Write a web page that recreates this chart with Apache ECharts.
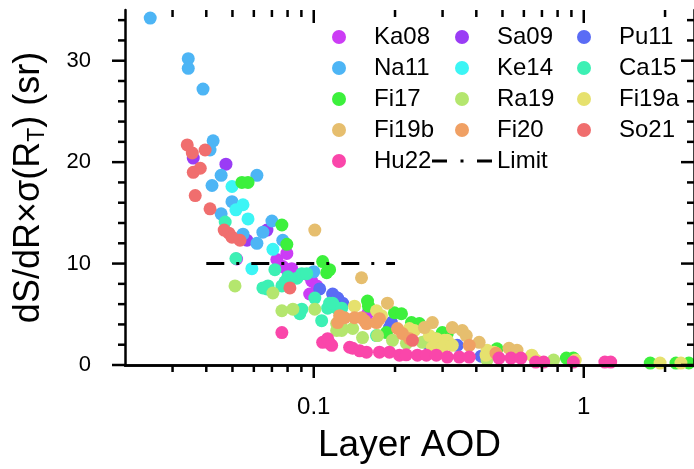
<!DOCTYPE html>
<html>
<head>
<meta charset="utf-8">
<script src="https://cdn.jsdelivr.net/npm/echarts@6/dist/echarts.min.js"></script>
<style>html,body{margin:0;padding:0;background:#fff}#c{width:694px;height:469px}</style>
</head>
<body>
<div id="c"></div>
<script>
const seriesNames = ['Ka08','Sa09','Pu11','Na11','Ke14','Ca15','Fi17','Ra19','Fi19a','Fi19b','Fi20','So21','Hu22'];
const seriesColors = ['#cc3cf5','#9a3cf5','#5a6cf5','#4db5f5','#3cf5f5','#3cf0b4','#3cf03c','#b4e66e','#e6e16e','#e6be6e','#f0a064','#f06e6e','#fa46aa'];

const Ka08 = [[0.0518,10.45],[0.0795,11.0],[0.0730,10.4],[0.0768,9.7],[0.0829,9.5],[0.0888,8.9],[0.0950,8.9],[0.0983,8.3],[0.1026,7.8],[0.0966,7.0],[0.1582,5.05],[0.0795,9.4]];
const Sa09 = [[0.0358,20.4],[0.0473,19.8],[0.0566,12.3],[0.0671,13.3]];
const Pu11 = [[0.1052,7.5],[0.1175,7.0],[0.1226,6.6],[0.1279,6.1],[0.1940,4.18],[0.1907,3.69],[0.2681,1.94],[0.3400,1.94],[0.4168,0.87]];
const Na11 = [[0.0248,34.2],[0.0343,30.2],[0.0343,29.25],[0.0389,27.2],[0.0424,22.1],[0.0413,21.2],[0.0454,18.7],[0.0420,17.7],[0.0616,18.7],[0.0498,16.1],[0.0454,14.9],[0.0700,14.2],[0.0547,12.9],[0.0648,13.1],[0.0616,12.0],[0.0768,12.3],[0.100,9.2]];
const Ke14 = [[0.0498,17.6],[0.0547,15.8],[0.0515,15.3],[0.0571,14.4],[0.0706,11.4],[0.0590,9.5]];
const Ca15 = [[0.0470,14.1],[0.0515,10.5],[0.0718,9.4],[0.0802,8.7],[0.0866,8.55],[0.0903,9.0],[0.0942,9.0],[0.0782,8.2],[0.0762,7.8],[0.0648,7.6],[0.0677,7.8],[0.0671,7.5],[0.1009,6.6],[0.0903,5.5],[0.0888,5.05],[0.1070,4.37],[0.1126,5.6],[0.1216,5.6],[0.1145,6.1],[0.1175,6.1],[0.1269,5.6],[0.1708,2.9]];
const Fi17 = [[0.0542,18.0],[0.0571,18.0],[0.0762,13.8],[0.0795,11.9],[0.1079,10.2],[0.1117,9.1],[0.1145,9.4],[0.1582,6.3],[0.1595,5.8],[0.1990,5.15],[0.2113,5.05],[0.2301,4.18],[0.2462,4.08],[0.1859,3.2],[0.2993,3.2],[0.3123,3.1],[0.2917,2.7],[0.4772,1.6],[0.8623,0.68],[0.9147,0.68],[1.763,0.19],[2.195,0.19],[2.45,0.2]];
const Ra19 = [[0.0511,7.8],[0.0706,7.1],[0.0762,5.35],[0.0837,5.5],[0.1009,5.5],[0.1216,3.4],[0.1269,3.4],[0.1279,3.6],[0.1394,3.6],[0.1516,2.7],[0.1723,2.9],[0.1957,2.43],[0.2205,2.14],[0.2526,2.24],[0.4385,0.49],[0.7731,0.49],[0.1216,4.08]];
const Fi19a = [[0.1416,5.8],[0.1708,5.35],[0.1782,4.86],[0.2262,3.6],[0.2360,3.4],[0.2681,2.9],[0.2844,2.6],[0.3044,2.43],[0.3123,2.43],[0.2750,1.75],[0.2993,1.75],[0.3259,1.94],[0.4385,1.46],[0.4652,1.26],[0.4348,0.97],[0.6418,0.97],[0.6638,0.49],[0.9302,0.49],[1.917,0.19],[2.290,0.19]];
const Fi19b = [[0.1009,13.3],[0.1503,8.6],[0.1875,6.1],[0.2569,3.69],[0.2750,4.18],[0.3259,3.69],[0.3549,3.4],[0.3672,2.9],[0.4098,2.24],[0.5285,1.65],[0.5658,1.46]];
const Fi20 = [[0.1226,4.18],[0.1247,4.86],[0.1301,4.66],[0.1416,4.66],[0.1503,4.66],[0.1542,4.37],[0.1568,4.08],[0.1708,4.18],[0.1752,4.57],[0.2042,3.6],[0.2131,3.1],[0.2262,2.6],[0.3767,1.94],[0.4732,1.17]];
const So21 = [[0.0340,21.7],[0.0355,20.9],[0.0396,21.2],[0.0358,19.0],[0.0380,19.4],[0.0364,16.7],[0.0413,15.4],[0.0466,13.3],[0.0485,13.0],[0.0498,12.6],[0.0533,12.3],[0.0816,7.6],[0.2320,2.43]];
const Hu22 = [[0.0762,3.2],[0.1079,2.24],[0.1145,2.14],[0.1126,2.6],[0.1165,1.94],[0.1358,1.75],[0.1394,1.65],[0.1480,1.4],[0.1568,1.26],[0.1752,1.26],[0.1907,1.26],[0.2077,0.97],[0.2200,1.0],[0.2421,0.97],[0.2613,0.97],[0.2844,0.97],[0.3123,0.78],[0.3458,0.78],[0.3767,0.78],[0.4854,0.68],[0.5376,0.68],[0.5852,0.68],[0.6638,0.29],[0.7104,0.29],[0.9147,0.29],[1.197,0.29],[1.258,0.29]];
const seriesData = [Ka08,Sa09,Pu11,Na11,Ke14,Ca15,Fi17,Ra19,Fi19a,Fi19b,Fi20,So21,Hu22];

const limitName = 'Limit';
const limitData = [[0.04,10],[0.2,10]];

const xMajorTicks = [0.1, 1];
const xMinorTicks = [0.03,0.04,0.05,0.06,0.07,0.08,0.09,0.2,0.3,0.4,0.5,0.6,0.7,0.8,0.9,2];
const yMajorTicks = [0, 10, 20, 30];
const yMinorTicks = [2,4,6,8,12,14,16,18,22,24,26,28,32,34];

const legendCols = [
  ['Ka08','Na11','Fi17','Fi19b','Hu22'],
  ['Sa09','Ke14','Ra19','Fi20','Limit'],
  ['Pu11','Ca15','Fi19a','So21']
];

const FONT = 'Liberation Sans, Arial, sans-serif';
const XMIN = 0.02, XMAX = 2.56, YMIN = 0, YMAX = 35;
const axisLine = {show:true, lineStyle:{color:'#000', width:2.5}};
const limitIcon = 'path://M0,0h15v3h-15z M28.5,0h3v3h-3z M45,0h15v3h-15z';

// tick specs: [x, y, kind] kind 0 = x major, 1 = x minor, 2 = y major, 3 = y minor
const tickData = []
  .concat(xMajorTicks.map(v=>[v, YMIN, 0]))
  .concat(xMinorTicks.map(v=>[v, YMIN, 1]))
  .concat(yMajorTicks.map(v=>[XMIN, v, 2]))
  .concat(yMinorTicks.map(v=>[XMIN, v, 3]));

const chart = echarts.init(document.getElementById('c'), null, {renderer:'canvas'});

function renderTick(params, api) {
  const kind = api.value(2);
  const len = (kind === 0 || kind === 2) ? 13 : 7;
  const st = {stroke:'#000', lineWidth:2.5};
  if (kind < 2) {
    const b = api.coord([api.value(0), YMIN]);
    const t = api.coord([api.value(0), YMAX]);
    return {type:'group', children:[
      {type:'line', shape:{x1:b[0], y1:b[1], x2:b[0], y2:b[1]+len}, style:st},
      {type:'line', shape:{x1:t[0], y1:t[1], x2:t[0], y2:t[1]+len}, style:st}
    ]};
  } else {
    const l = api.coord([XMIN, api.value(1)]);
    const r = api.coord([XMAX, api.value(1)]);
    return {type:'group', children:[
      {type:'line', shape:{x1:l[0]-len, y1:l[1], x2:l[0], y2:l[1]}, style:st},
      {type:'line', shape:{x1:r[0]-len, y1:r[1], x2:r[0], y2:r[1]}, style:st}
    ]};
  }
}

const series = seriesNames.map((n,i)=>({
  name:n, type:'scatter', data:seriesData[i], symbol:'circle', symbolSize:13,
  itemStyle:{color:seriesColors[i], opacity:1}, z:2
}));
series.push({
  name:limitName, type:'line', data:limitData, symbol:'none', z:3,
  itemStyle:{color:'#000'},
  lineStyle:{color:'#000', width:3, type:[18,12,3,12]}
});
series.push({
  name:'ticks', type:'custom', data:tickData, renderItem:renderTick, z:12, clip:false, silent:true,
  encode:{x:0, y:1}
});

const legendLefts = [332, 432, 577];
const legend = legendCols.map((col,i)=>({
  data: col.map(n => n === limitName ? {name:n, icon:limitIcon} : n),
  orient:'vertical', left: legendLefts[i], top: 25, padding:0,
  itemWidth:60, itemHeight:14, itemGap:7, selectedMode:false,
  textStyle:{fontSize:24, color:'#000', fontFamily:FONT, lineHeight:23}
}));

chart.setOption({
  animation:false,
  backgroundColor:'#fff',
  grid:{left:125, top:10, right:-2, bottom:99, containLabel:false},
  xAxis:[
    {type:'log', logBase:10, min:XMIN, max:XMAX, position:'bottom', z:10,
     axisLine:axisLine, axisTick:{show:false}, splitLine:{show:false}, minorTick:{show:false},
     axisLabel:{show:true, customValues:xMajorTicks, fontSize:24, color:'#000', fontFamily:FONT, margin:30, formatter:v=>String(v)},
     name:'Layer AOD', nameLocation:'middle', nameGap:62,
     nameTextStyle:{fontSize:37, color:'#000', fontFamily:FONT}},
    {type:'log', logBase:10, min:XMIN, max:XMAX, position:'top', z:10,
     axisLine:axisLine, axisTick:{show:false}, axisLabel:{show:false}, splitLine:{show:false}}
  ],
  yAxis:[
    {type:'value', min:YMIN, max:YMAX, position:'left', z:10,
     axisLine:axisLine, axisTick:{show:false}, splitLine:{show:false}, minorTick:{show:false},
     axisLabel:{show:true, customValues:yMajorTicks, fontSize:22, color:'#000', fontFamily:FONT, margin:34},
     name:'{a|dS/dR×σ(R}{s|T}{a|) (sr)}', nameLocation:'middle', nameGap:76,
     nameTextStyle:{color:'#000', fontFamily:FONT, fontSize:36,
       rich:{a:{fontSize:36, fontFamily:FONT, color:'#000', lineHeight:40, verticalAlign:'middle'},
             s:{fontSize:23, fontFamily:FONT, color:'#000', lineHeight:23, verticalAlign:'bottom'}}}},
    {type:'value', min:YMIN, max:YMAX, position:'right', z:10,
     axisLine:axisLine, axisTick:{show:false}, axisLabel:{show:false}, splitLine:{show:false}}
  ],
  legend: legend,
  graphic:[{type:'rect', shape:{x:0, y:371, width:694, height:98}, style:{fill:'#fff'}, z:5, silent:true}],
  series: series
});
</script>
</body>
</html>
